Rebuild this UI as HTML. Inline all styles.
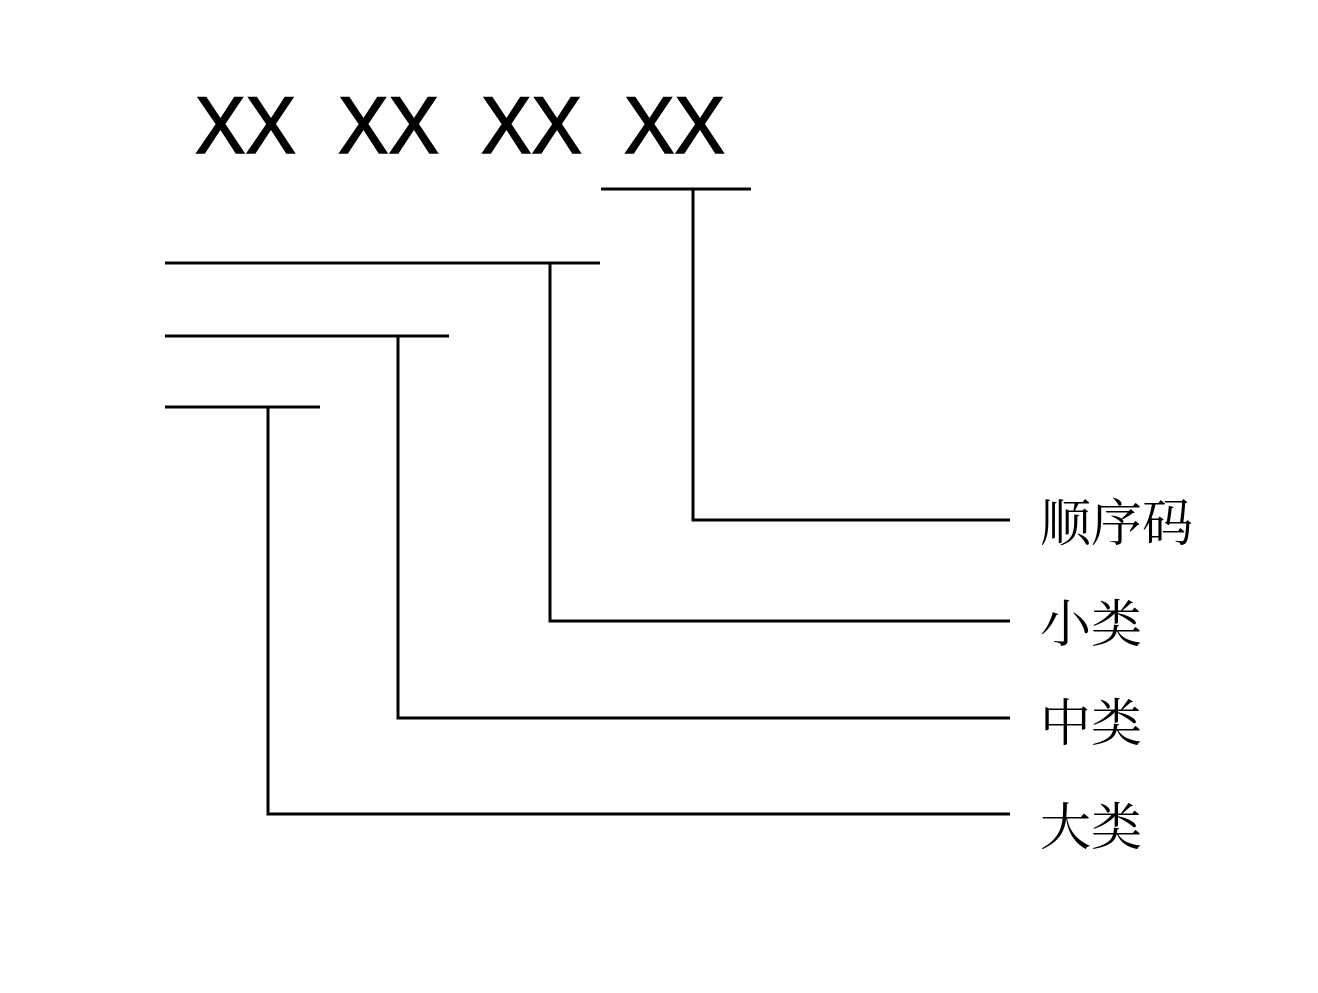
<!DOCTYPE html>
<html><head><meta charset="utf-8"><style>html,body{margin:0;padding:0;background:#fff}</style></head>
<body>
<svg width="1318" height="988" viewBox="0 0 1318 988" xmlns="http://www.w3.org/2000/svg">
<g font-family="Liberation Sans, sans-serif" font-size="81" fill="#000" stroke="#000" stroke-width="1.5">
<text x="195" y="153" textLength="101" lengthAdjust="spacingAndGlyphs">XX</text>
<text x="338" y="153" textLength="101" lengthAdjust="spacingAndGlyphs">XX</text>
<text x="481" y="153" textLength="101" lengthAdjust="spacingAndGlyphs">XX</text>
<text x="624" y="153" textLength="101" lengthAdjust="spacingAndGlyphs">XX</text>
</g>
<g stroke="#000" stroke-width="3" fill="none">
<line x1="601" y1="189" x2="751" y2="189"/>
<polyline points="693,189 693,520 1010,520"/>
<line x1="165" y1="263" x2="600" y2="263"/>
<polyline points="550,263 550,621 1010,621"/>
<line x1="165" y1="336" x2="449" y2="336"/>
<polyline points="398,336 398,718 1010,718"/>
<line x1="165" y1="407" x2="320" y2="407"/>
<polyline points="268,407 268,814 1010,814"/>
</g>
<g font-family="Noto Serif CJK SC, Noto Sans CJK SC, serif" font-size="51" fill="#000" dominant-baseline="central">
<text x="1040" y="519">顺序码</text>
<text x="1040" y="620">小类</text>
<text x="1040" y="719">中类</text>
<text x="1040" y="823">大类</text>
</g>
</svg>
</body></html>
